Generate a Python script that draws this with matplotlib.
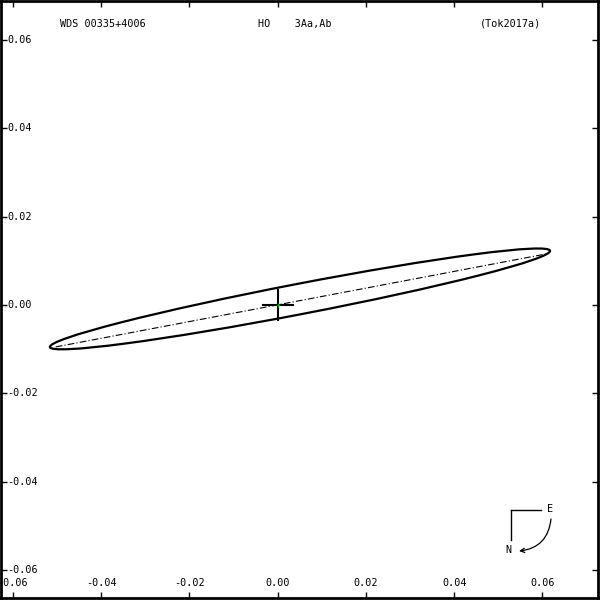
import matplotlib
matplotlib.use("Agg")
import matplotlib.pyplot as plt
from matplotlib.patches import Ellipse

# header texts
title_left = "WDS 00335+4006"
title_mid = "HO    3Aa,Ab"
title_right = "(Tok2017a)"

# axis ticks (same on both axes)
ticks = [-0.06, -0.04, -0.02, 0.00, 0.02, 0.04, 0.06]
tick_labels = ["-0.06", "-0.04", "-0.02", "0.00", "0.02", "0.04", "0.06"]

# apparent orbit (ellipse)
orbit_center = (0.00505, 0.00138)
orbit_width = 0.1154      # 2a
orbit_height = 0.0069     # 2b
orbit_angle = 10.9        # degrees

# line of nodes through the primary
nodes_x = [-0.0503, 0.0610]
nodes_y = [-0.0095, 0.0116]

# primary marker half size
cross = 0.0034

xlim = (-0.0627, 0.07258)
ylim = (-0.0664, 0.06889)

font = dict(family="DejaVu Sans Mono", size=7.3, color="black")

fig = plt.figure(figsize=(6, 6), dpi=100)
ax = fig.add_axes([1 / 600, 2 / 600, 597 / 600, 597 / 600])
ax.set_xlim(*xlim)
ax.set_ylim(*ylim)
ax.set_aspect("auto")
for s in ax.spines.values():
    s.set_linewidth(2.0)

ax.set_xticks(ticks)
ax.set_yticks(ticks)
ax.tick_params(direction="in", length=4, width=1, top=True, right=True,
               labelbottom=False, labelleft=False)

# tick labels drawn inside the frame
for v, lab in zip(ticks, tick_labels):
    ax.text(v, 0.025, lab, transform=ax.get_xaxis_transform(),
            ha="center", va="center", **font)
    ax.text(0.010, v, lab, transform=ax.get_yaxis_transform(),
            ha="left", va="center", **font)

# header
ax.text((60 - 1) / 597, (598 - 24) / 597, title_left, transform=ax.transAxes,
        ha="left", va="center", **font)
ax.text((258 - 1) / 597, (598 - 24) / 597, title_mid, transform=ax.transAxes,
        ha="left", va="center", **font)
ax.text((480 - 1) / 597, (598 - 24) / 597, title_right, transform=ax.transAxes,
        ha="left", va="center", **font)

# orbit
ax.add_patch(Ellipse(orbit_center, orbit_width, orbit_height, angle=orbit_angle,
                     fill=False, edgecolor="black", linewidth=1.6))
ax.plot(nodes_x, nodes_y, color="black", linewidth=0.8,
        dashes=(6, 2, 1, 2))

# primary
ax.plot([-cross, cross], [0, 0], color="black", linewidth=1.5)
ax.plot([0, 0], [-cross, cross], color="black", linewidth=1.5)
ax.plot([0], [0], marker="+", color="#00a000", markersize=3, markeredgewidth=0.8)

# orientation compass
def fx(px):
    return (px - 1) / 597

def fy(py):
    return (598 - py) / 597

ax.plot([fx(511), fx(541)], [fy(510), fy(510)], color="black", linewidth=1,
        transform=ax.transAxes)
ax.plot([fx(511), fx(511)], [fy(510), fy(540)], color="black", linewidth=1,
        transform=ax.transAxes)
ax.text(fx(550), fy(509), "E", transform=ax.transAxes, ha="center", va="center", **font)
ax.text(fx(508), fy(550), "N", transform=ax.transAxes, ha="center", va="center", **font)
ax.annotate("", xy=(fx(519), fy(551)), xytext=(fx(551), fy(519)),
            xycoords="axes fraction", textcoords="axes fraction",
            arrowprops=dict(arrowstyle="->,head_length=0.3,head_width=0.15",
                            connectionstyle="arc3,rad=-0.4", color="black",
                            linewidth=0.9, shrinkA=0, shrinkB=0))

fig.savefig("out.png", dpi=100)
